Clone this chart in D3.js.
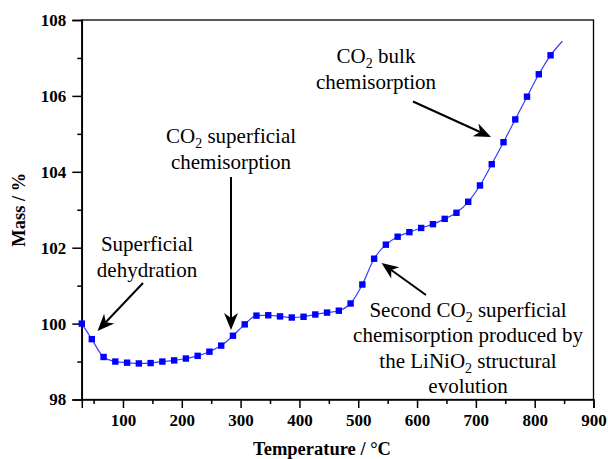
<!DOCTYPE html>
<html>
<head>
<meta charset="utf-8">
<script src="https://cdn.jsdelivr.net/npm/d3@7"></script>
<style>
  html, body { margin: 0; padding: 0; background: #fff; }
  svg { display: block; }
  text { font-family: "Liberation Serif", "Times New Roman", serif; fill: #000; }
</style>
</head>
<body>
<svg id="chart" width="608" height="459"></svg>
<script>
// ---- data ----
const temperature = [30, 47, 67, 87, 107, 127, 147, 167, 187, 207, 227, 247, 267, 287, 307,
  327, 347, 367, 387, 407, 427, 447, 467, 487, 507, 527, 547, 567, 587, 607, 627, 647,
  667, 687, 707, 727, 747, 767, 787, 807, 827, 847];
const mass = [100.00, 99.59, 99.12, 99.00, 98.97, 98.95, 98.96, 99.00, 99.03, 99.08, 99.15,
  99.26, 99.42, 99.68, 99.98, 100.21, 100.22, 100.19, 100.16, 100.18, 100.24, 100.29, 100.34,
  100.53, 101.03, 101.71, 102.08, 102.29, 102.41, 102.52, 102.62, 102.76, 102.92, 103.21,
  103.64, 104.20, 104.78, 105.38, 105.98, 106.57, 107.07, 107.44];
// last point ends the line, no marker on it
const markerCount = 41;
const xTicks = [100, 200, 300, 400, 500, 600, 700, 800, 900];
const xMinorTicks = [50, 150, 250, 350, 450, 550, 650, 750, 850];
const yTicks = [98, 100, 102, 104, 106, 108];
const yMinorTicks = [99, 101, 103, 105, 107];
const xTitle = "Temperature / °C";
const yTitle = "Mass / %";

// ---- layout ----
const svg = d3.select("#chart");
const L = 81.8, R = 593.5, T = 20, B = 399.5;
const x = d3.scaleLinear().domain([30, 900]).range([L, R]);
const y = d3.scaleLinear().domain([98, 108]).range([B, T]);

const data = temperature.map((t, i) => ({ t, m: mass[i] }));

// frame
svg.append("rect").attr("x", L).attr("y", T).attr("width", R - L).attr("height", B - T)
  .attr("fill", "none").attr("stroke", "#000").attr("stroke-width", 1.3);

// x axis
const xAxis = d3.axisBottom(x).tickValues(xTicks).tickSize(8.5).tickPadding(2).tickFormat(d3.format("d"));
const gx = svg.append("g").attr("transform", `translate(0,${B})`).call(xAxis);
gx.select(".domain").attr("stroke-width", 1.5);
gx.selectAll(".tick line").attr("stroke-width", 1.5);
gx.selectAll(".tick text").attr("font-size", 17).attr("font-weight", "bold")
  .attr("font-family", "Liberation Serif").attr("dy", "0.95em");
const gxm = svg.append("g").attr("transform", `translate(0,${B})`)
  .call(d3.axisBottom(x).tickValues(xMinorTicks).tickSize(4.5).tickFormat(""));
gxm.select(".domain").remove();
gxm.selectAll(".tick line").attr("stroke-width", 1.5);

// y axis
const yAxis = d3.axisLeft(y).tickValues(yTicks).tickSize(9.5).tickPadding(6).tickFormat(d3.format("d"));
const gy = svg.append("g").attr("transform", `translate(${L},0)`).call(yAxis);
gy.select(".domain").attr("stroke-width", 1.5);
gy.selectAll(".tick line").attr("stroke-width", 1.5);
gy.selectAll(".tick text").attr("font-size", 17).attr("font-weight", "bold")
  .attr("font-family", "Liberation Serif");
const gym = svg.append("g").attr("transform", `translate(${L},0)`)
  .call(d3.axisLeft(y).tickValues(yMinorTicks).tickSize(4.5).tickFormat(""));
gym.select(".domain").remove();
gym.selectAll(".tick line").attr("stroke-width", 1.5);

// axis titles
svg.append("text").attr("x", 322).attr("y", 455).attr("text-anchor", "middle")
  .attr("font-size", 18.5).attr("font-weight", "bold").text(xTitle);
svg.append("text").attr("transform", `translate(25,${(T + B) / 2}) rotate(-90)`)
  .attr("text-anchor", "middle").attr("font-size", 18.5).attr("font-weight", "bold").text(yTitle);

// series line
const line = d3.line().x(d => x(d.t)).y(d => y(d.m)).curve(d3.curveMonotoneX);
svg.append("path").datum(data).attr("d", line)
  .attr("fill", "none").attr("stroke", "#3b3bff").attr("stroke-width", 1.2);

// markers
const ms = 6.4;
svg.append("g").selectAll("rect").data(data.slice(0, markerCount)).join("rect")
  .attr("x", d => x(d.t) - ms / 2).attr("y", d => y(d.m) - ms / 2)
  .attr("width", ms).attr("height", ms).attr("fill", "#0000ff");

// annotations
function multiline(cx, y0, lines, dy) {
  lines.forEach((ln, i) => {
    const t = svg.append("text").attr("x", cx).attr("y", y0 + i * dy)
      .attr("text-anchor", "middle").attr("font-size", 21);
    let shifted = false;
    ln.forEach(part => {
      if (typeof part === "object") {
        t.append("tspan").attr("font-size", 14).attr("dy", 5).text(part.s);
        shifted = true;
      } else {
        const ts = t.append("tspan");
        if (shifted) { ts.attr("dy", -5); shifted = false; }
        ts.text(part);
      }
    });
  });
}
function arrow(x1, y1, x2, y2) {
  const a = Math.atan2(y2 - y1, x2 - x1);
  const len = 17, hw = 7, notch = 12;
  const ux = Math.cos(a), uy = Math.sin(a);
  const px = -uy, py = ux;
  const bx = x2 - ux * len, by = y2 - uy * len;
  const nx = x2 - ux * notch, ny = y2 - uy * notch;
  svg.append("line").attr("x1", x1).attr("y1", y1).attr("x2", nx).attr("y2", ny)
    .attr("stroke", "#000").attr("stroke-width", 2);
  svg.append("path")
    .attr("d", `M${x2},${y2}L${bx + px * hw},${by + py * hw}L${nx},${ny}L${bx - px * hw},${by - py * hw}Z`)
    .attr("fill", "#000");
}

multiline(147, 251, [["Superficial"], ["dehydration"]], 25.5);
arrow(143, 283, 97.5, 331);

multiline(231, 143, [["CO", {s: "2"}, " superficial"], ["chemisorption"]], 25.5);
arrow(231, 177, 231, 330);

multiline(376, 63, [["CO", {s: "2"}, " bulk"], ["chemisorption"]], 25.5);
arrow(413, 101.5, 491, 137);

multiline(468, 316.5, [["Second CO", {s: "2"}, " superficial"], ["chemisorption produced by"],
  ["the LiNiO", {s: "2"}, " structural"], ["evolution"]], 25.6);
arrow(426, 295, 381.5, 263);
</script>
</body>
</html>
